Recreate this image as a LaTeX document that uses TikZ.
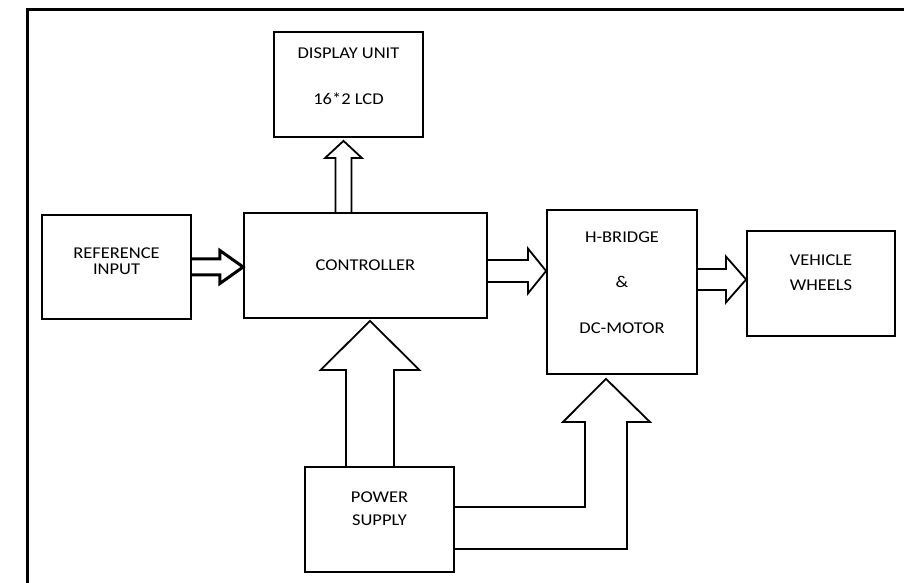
\documentclass[tikz,border=0pt]{standalone}
\usepackage{fontspec}
\setmainfont{Carlito}[FakeStretch=1.12]
\usetikzlibrary{calc}
\usetikzlibrary{positioning}
\tikzset{
  blockNode/.style={%
    rectangle, draw, line width=1.8pt, inner sep=0pt,
  },
  txt/.style={%
    align=center, font=\fontsize{16.5}{#1}\selectfont,
  },
  bigArrow/.style={%
    line width=1.8pt, line join=miter,
  }
}

\begin{document}
\begin{tikzpicture}[x=1pt,y=1pt]
        \useasboundingbox (0,0) rectangle (904,583);
        % frame
        \draw[line width=3pt] (27.7,-2) -- (27.7,573) -- (906,573);
        % blocks
        \node[blockNode, minimum width=149pt, minimum height=105pt,
          label={[txt=46, yshift=8.5pt]center:DISPLAY UNIT\\16*2 LCD}] (disp) at (348.5,498.5) {};
        \node[blockNode, minimum width=149pt, minimum height=104pt,
          label={[txt=16.5, yshift=6pt]center:REFERENCE\\INPUT}] (ref) at (116.5,316) {};
        \node[blockNode, minimum width=243pt, minimum height=105pt,
          label={[txt=20]center:CONTROLLER}] (ctrl) at (365.5,317.5) {};
        \node[blockNode, minimum width=150pt, minimum height=164pt,
          label={[txt=45.5, yshift=9.5pt]center:H-BRIDGE\\\&\\DC-MOTOR}] (hbr) at (622,291) {};
        \node[blockNode, minimum width=148pt, minimum height=105pt,
          label={[txt=25, yshift=11pt]center:VEHICLE\\WHEELS}] (veh) at (821,299.5) {};
        \node[blockNode, minimum width=149pt, minimum height=105pt,
          label={[txt=23, yshift=11pt]center:POWER\\SUPPLY}] (pwr) at (379.5,63.5) {};
        % arrow roots
        \coordinate (r2c) at (ref.east);
        \coordinate (c2h) at ($(ctrl.east)+(0,-5.5)$);
        \coordinate (h2v) at ($(hbr.east)+(0,12.5)$);
        \coordinate (c2d) at ($(ctrl.north)+(-22,0)$);
        \coordinate (p2c) at ($(pwr.north)+(-9.5,0)$);
        % block arrows
        \draw[bigArrow, line width=3pt] ($(r2c)+(0,8)$) -- ++(28,0) -- ++(0,8.5) -- (r2c -| ctrl.west)
          -- ($(r2c)+(28,-16.5)$) -- ++(0,8.5) -- ($(r2c)+(0,-8)$);
        \draw[bigArrow] ($(c2h)+(0,11)$) -- ++(40,0) -- ++(0,11.5) -- (c2h -| hbr.west)
          -- ($(c2h)+(40,-22.5)$) -- ++(0,11.5) -- ($(c2h)+(0,-11)$);
        \draw[bigArrow] ($(h2v)+(0,10.5)$) -- ++(28,0) -- ++(0,12.5) -- (h2v -| veh.west)
          -- ($(h2v)+(28,-23)$) -- ++(0,12.5) -- ($(h2v)+(0,-10.5)$);
        \draw[bigArrow] ($(c2d)+(-8,0)$) -- ++(0,54) -- ++(-10.5,0) -- ($(c2d |- disp.south)+(0,-3)$)
          -- ($(c2d)+(18.5,54)$) -- ++(-10.5,0) -- ($(c2d)+(8,0)$);
        \draw[bigArrow] ($(p2c)+(-24,0)$) -- ++(0,96) -- ++(-25.5,0) -- ($(p2c |- ctrl.south)+(0,-2)$)
          -- ($(p2c)+(49.5,96)$) -- ++(-25.5,0) -- ($(p2c)+(24,0)$);
        \draw[bigArrow] ($(pwr.east)+(0,12.5)$) -- (585,76) -- (585,161) -- (563,161)
          -- ($(hbr.south)+(-16,-4)$) -- (650,161) -- (627,161) -- (627,34) -- ($(pwr.east)+(0,-29.5)$);
      \end{tikzpicture}
\end{document}
